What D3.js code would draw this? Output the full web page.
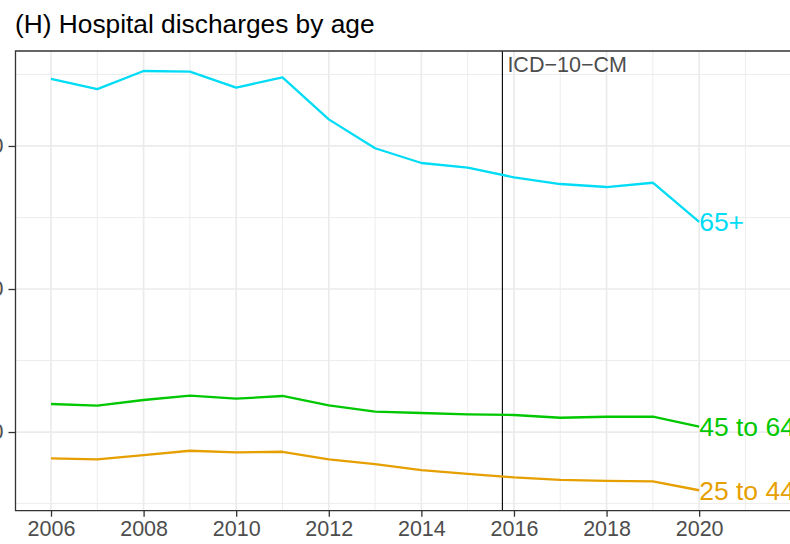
<!DOCTYPE html>
<html>
<head>
<meta charset="utf-8">
<script src="https://cdn.jsdelivr.net/npm/d3@7"></script>
<style>
  body { margin: 0; background: #fff; }
  svg { display: block; font-family: "Liberation Sans", Arial, sans-serif; }
</style>
</head>
<body>
<svg id="chart" width="790" height="544"></svg>
<script>
// Data
const years = [2006, 2007, 2008, 2009, 2010, 2011, 2012, 2013, 2014, 2015, 2016, 2017, 2018, 2019, 2020];
const age65plus = [346.9, 339.7, 352.4, 352.0, 340.8, 348.0, 318.6, 298.4, 288.1, 284.8, 278.1, 273.4, 271.3, 274.3, 247.0];
const age45to64 = [119.6, 118.4, 122.4, 125.4, 123.3, 125.2, 118.7, 114.2, 113.3, 112.4, 111.9, 110.0, 110.7, 110.7, 103.7];
const age25to44 = [81.6, 80.9, 83.9, 86.9, 85.8, 86.2, 80.9, 77.6, 73.4, 70.8, 68.3, 66.6, 65.9, 65.5, 59.3];
const seriesNames = ['65+', '45 to 64', '25 to 44'];
const seriesColors = ['#00dcf5', '#00c800', '#e69f00'];
const xMajor = [2006, 2008, 2010, 2012, 2014, 2016, 2018, 2020, 2022];
const xMinor = [2007, 2009, 2011, 2013, 2015, 2017, 2019, 2021];
const yMajor = [100, 200, 300];
const yMinor = [50, 150, 250, 350];
const icdYear = 2015.75;

const series = [age65plus, age45to64, age25to44].map((vals, i) => ({
  name: seriesNames[i],
  color: seriesColors[i],
  values: years.map((yr, j) => ({ year: yr, value: vals[j] }))
}));

const svg = d3.select('#chart');

// Panel edges
const pLeft = 15.5, pTop = 51, pBottom = 510.7, pRight = 801;

const x = d3.scaleLinear().domain([2005.233, 2022.2]).range([pLeft, pRight]);
const y = d3.scaleLinear().domain([45, 366.4]).range([pBottom, pTop]);

// Title
svg.append('text')
  .attr('x', 15)
  .attr('y', 32.5)
  .style('font-size', '26.3px')
  .style('fill', '#000')
  .text('(H) Hospital discharges by age');

const grid = svg.append('g');

// Minor grid
grid.selectAll('line.xminor')
  .data(xMinor)
  .join('line')
  .attr('class', 'xminor')
  .attr('x1', x).attr('x2', x)
  .attr('y1', pTop).attr('y2', pBottom)
  .style('stroke', '#ebebeb')
  .style('stroke-width', 0.9);

grid.selectAll('line.yminor')
  .data(yMinor)
  .join('line')
  .attr('class', 'yminor')
  .attr('x1', pLeft).attr('x2', pRight)
  .attr('y1', y).attr('y2', y)
  .style('stroke', '#ebebeb')
  .style('stroke-width', 0.9);

// Major grid
grid.selectAll('line.xmajor')
  .data(xMajor)
  .join('line')
  .attr('class', 'xmajor')
  .attr('x1', x).attr('x2', x)
  .attr('y1', pTop).attr('y2', pBottom)
  .style('stroke', '#ebebeb')
  .style('stroke-width', 1.7);

grid.selectAll('line.ymajor')
  .data(yMajor)
  .join('line')
  .attr('class', 'ymajor')
  .attr('x1', pLeft).attr('x2', pRight)
  .attr('y1', y).attr('y2', y)
  .style('stroke', '#ebebeb')
  .style('stroke-width', 1.7);

// ICD-10-CM marker
svg.append('line')
  .attr('x1', x(icdYear)).attr('x2', x(icdYear))
  .attr('y1', pTop).attr('y2', pBottom)
  .style('stroke', '#000')
  .style('stroke-width', 1.1);

svg.append('text')
  .attr('x', x(icdYear) + 5)
  .attr('y', 72.3)
  .style('font-size', '21.5px')
  .style('fill', '#4d4d4d')
  .text('ICD\u221210\u2212CM');

// Lines
const line = d3.line().x(d => x(d.year)).y(d => y(d.value));

svg.selectAll('path.series')
  .data(series)
  .join('path')
  .attr('class', 'series')
  .attr('d', d => line(d.values))
  .style('fill', 'none')
  .style('stroke', d => d.color)
  .style('stroke-width', 2.3)
  .style('stroke-linejoin', 'round');

// End labels
svg.selectAll('text.label')
  .data(series)
  .join('text')
  .attr('class', 'label')
  .attr('x', d => x(d.values[d.values.length - 1].year))
  .attr('y', d => y(d.values[d.values.length - 1].value))
  .attr('dy', '0.36em')
  .style('font-size', '26.5px')
  .style('fill', d => d.color)
  .text(d => d.name);

// Panel border (left, top, bottom)
svg.append('path')
  .attr('d', `M${pRight},${pTop}H${pLeft}V${pBottom}H${pRight}`)
  .style('fill', 'none')
  .style('stroke', '#333')
  .style('stroke-width', 1.3);

// X axis ticks and labels
const xAxis = svg.append('g').attr('transform', `translate(0,${pBottom})`)
  .call(d3.axisBottom(x).tickValues(xMajor.slice(0, -1)).tickFormat(d3.format('d')).tickSize(6).tickPadding(4));
xAxis.select('.domain').remove();
xAxis.selectAll('.tick line').style('stroke', '#333').style('stroke-width', 1.3);
xAxis.selectAll('.tick text')
  .style('font-size', '21.5px')
  .style('fill', '#4d4d4d')
  .style('font-family', '"Liberation Sans", Arial, sans-serif');

// Y axis ticks and (cut off) labels
const yAxis = svg.append('g').attr('transform', `translate(${pLeft},0)`)
  .call(d3.axisLeft(y).tickValues(yMajor).tickSize(7).tickPadding(5));
yAxis.select('.domain').remove();
yAxis.selectAll('.tick line').style('stroke', '#333').style('stroke-width', 1.3);
yAxis.selectAll('.tick text')
  .style('font-size', '21.5px')
  .style('fill', '#4d4d4d')
  .style('font-family', '"Liberation Sans", Arial, sans-serif');
</script>
</body>
</html>
